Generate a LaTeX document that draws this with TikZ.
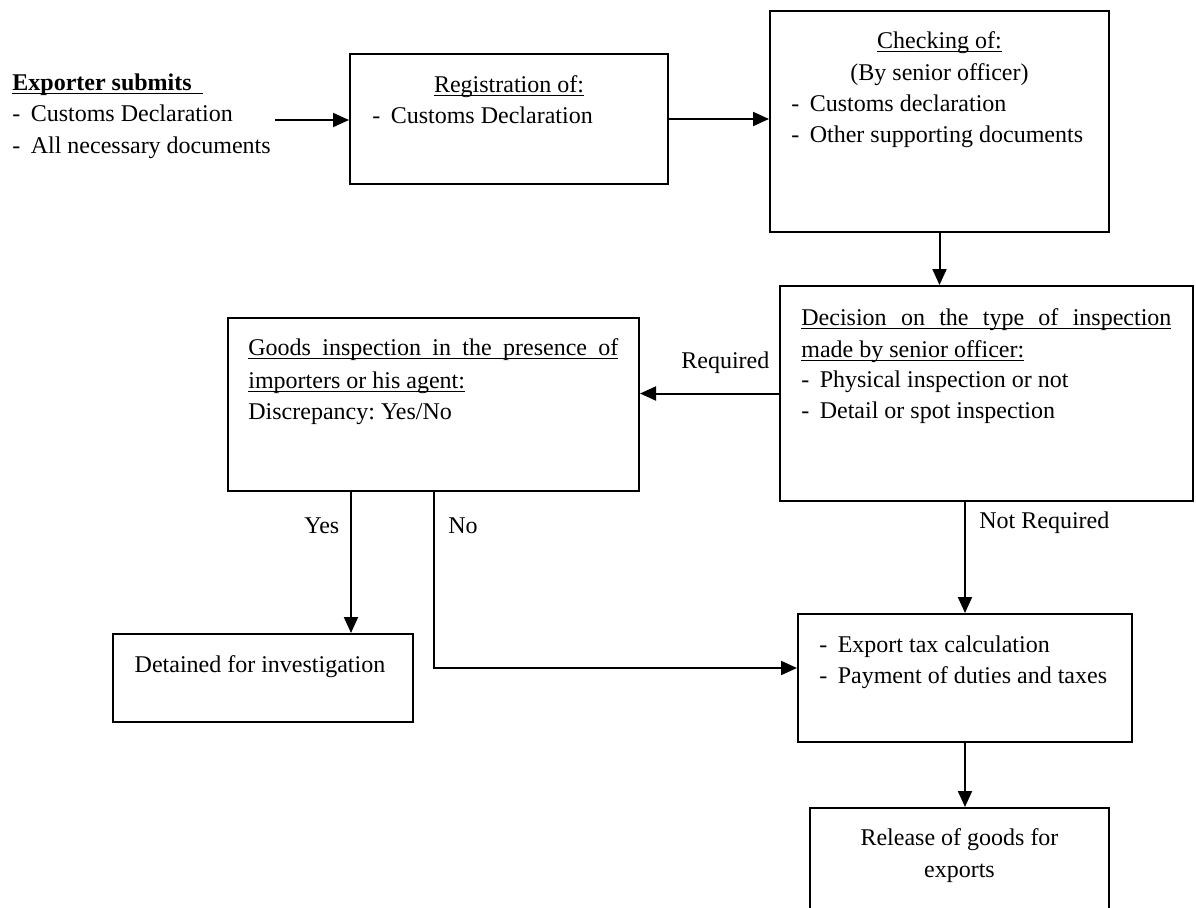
\documentclass[tikz,border=0pt]{standalone}
\usepackage{fontspec}
\setmainfont{Liberation Serif}
\usetikzlibrary{arrows.meta}
\newcommand{\uln}[1]{\setbox0=\hbox{#1}\rlap{\rule[-2.2pt]{\wd0}{0.75pt}}\box0}
\newcommand{\dsh}{\makebox[9.2pt][l]{-}}
\begin{document}
\begin{tikzpicture}[x=0.5pt,y=-0.5pt,
  box/.style={draw, line width=1pt, rectangle, inner sep=0pt},
  txt/.style={inner sep=0pt, anchor=base west, font=\fontsize{12pt}{15pt}\selectfont\frenchspacing},
  ctxt/.style={txt, anchor=base},
  arr/.style={line width=1pt, -{Triangle[length=8pt,width=7pt]}}]
\useasboundingbox (0,0) rectangle (1196,907);
\fill[white] (0,0) rectangle (1196,907);
\begin{scope}
\clip (0,0) rectangle (1196,907);
% boxes
\node[box, minimum width=159pt, minimum height=65pt] (reg) at (509,119) {};
\node[box, minimum width=169.5pt, minimum height=110.5pt] (chk) at (939.5,121.5) {};
\node[box, minimum width=206.5pt, minimum height=107.5pt] (dec) at (986.5,393.5) {};
\node[box, minimum width=205.5pt, minimum height=86.5pt] (goods) at (433.5,404.5) {};
\node[box, minimum width=150pt, minimum height=44pt] (det) at (263,678) {};
\node[box, minimum width=167pt, minimum height=64pt] (exp) at (965,678) {};
\node[box, minimum width=149.5pt, minimum height=66pt] (rel) at (959.5,874) {};
% exporter text
\node[txt] (e1) at (12,90) {\uln{\makebox[95.5pt][l]{\textbf{Exporter submits}}}};
\node[txt] (e2) at (12,121) {\dsh Customs Declaration};
\node[txt] (e3) at (12,153) {\dsh All necessary documents};
% registration
\node[ctxt] (r1) at (509,92) {\uln{Registration of:}};
\node[txt] (r2) at (372,123) {\dsh Customs Declaration};
% checking
\node[ctxt] (c1) at (939.5,48) {\uln{Checking of:}};
\node[ctxt] (c2) at (939.5,80) {(By senior officer)};
\node[txt] (c3) at (791,111) {\dsh Customs declaration};
\node[txt] (c4) at (791,142) {\dsh Other supporting documents};
% decision
\node[txt] (d1) at (801,325) {\uln{\makebox[185pt][s]{Decision on the type of inspection}}};
\node[txt] (d2) at (801,357) {\uln{made by senior officer:}};
\node[txt] (d3) at (801,387) {\dsh Physical inspection or not};
\node[txt] (d4) at (801,418) {\dsh Detail or spot inspection};
% goods
\node[txt] (g1) at (248,355) {\uln{\makebox[185pt][s]{Goods inspection in the presence of}}};
\node[txt] (g2) at (248,388) {\uln{importers or his agent:}};
\node[txt] (g3) at (248,419) {Discrepancy: Yes/No};
% detained
\node[ctxt] (t1) at (260,672) {Detained for investigation};
% export
\node[txt] (x1) at (819,652) {\dsh Export tax calculation};
\node[txt] (x2) at (819,683) {\dsh Payment of duties and taxes};
% release
\node[ctxt] (l1) at (959.5,845) {Release of goods for};
\node[ctxt] (l2) at (959.5,877) {exports};
% labels
\node[txt] (lreq) at (681,368) {Required};
\node[txt] (lnreq) at (979,528) {Not Required};
\node[txt] (lyes) at (304,533) {Yes};
\node[txt] (lno) at (448,533) {No};
% connectors
\coordinate (ex) at (275,120);
\coordinate (yesx) at (351,0);
\coordinate (noy) at (0,668);
\draw[arr] (ex) -- (ex -| reg.west);
\draw[arr] (reg.east) -- (reg.east -| chk.west);
\draw[arr] (chk.south) -- (chk.south |- dec.north);
\draw[arr] (dec.west) -- (dec.west -| goods.east);
\draw[arr] (exp.north |- dec.south) -- (exp.north);
\draw[arr] (goods.south -| yesx) -- (det.north -| yesx);
\draw[arr] (goods.south) |- (exp.west |- noy);
\draw[arr] (exp.south) -- (exp.south |- rel.north);
\end{scope}
\end{tikzpicture}
\end{document}
